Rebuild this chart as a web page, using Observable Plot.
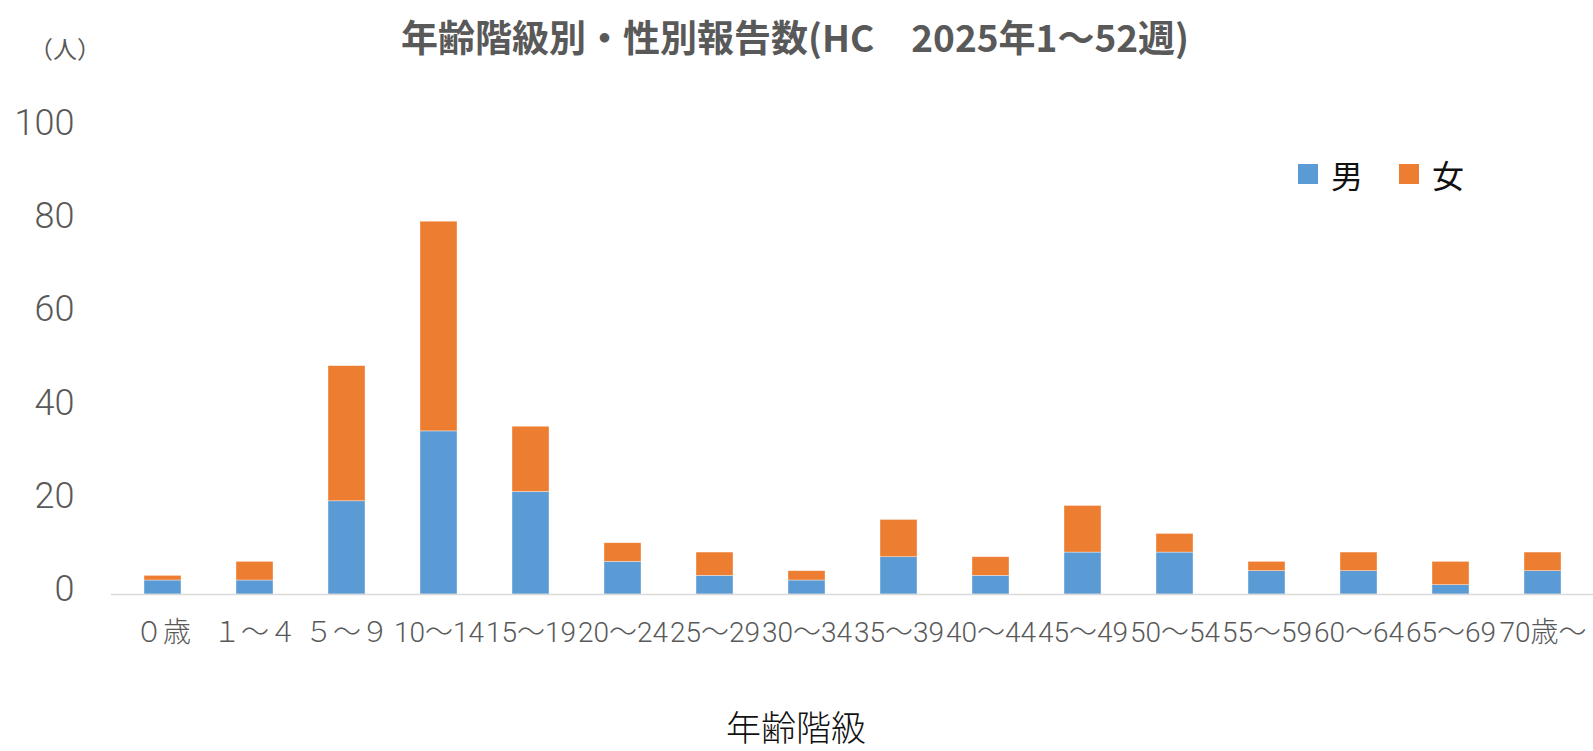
<!DOCTYPE html>
<html>
<head>
<meta charset="utf-8">
<script src="https://cdn.jsdelivr.net/npm/d3@7"></script>
<script src="https://cdn.jsdelivr.net/npm/@observablehq/plot@0.6"></script>
<style>
  html, body { margin: 0; padding: 0; background: #fff; }
  #wrap { position: relative; width: 1593px; height: 751px; overflow: hidden; }
  .t { position: absolute; white-space: nowrap; font-family: "Noto Sans CJK JP", sans-serif; line-height: 1; }
  #title { left: 795px; top: 36px; transform: translate(-50%, -50%); font-size: 37px; font-weight: 700; color: #595959; }
  #unit { left: 29px; top: 48px; transform: translate(0, -50%); font-size: 24px; color: #595959; }
  #xlabel { left: 796px; top: 725px; transform: translate(-50%, -50%); font-size: 35px; color: #111; font-weight: 300; }
  #legend { left: 1298px; top: 174px; transform: translate(0, -50%); display: flex; align-items: center; font-size: 32px; color: #111; }
  .sw { width: 20px; height: 20px; display: inline-block; margin-right: 13px; }
  .item { display: flex; align-items: center; margin-right: 36px; }
</style>
</head>
<body>
<div id="wrap">
  <div id="chart"></div>
</div>
<script>
const ages = ["０歳","１～４","５～９","10～14","15～19","20～24","25～29","30～34","35～39","40～44","45～49","50～54","55～59","60～64","65～69","70歳～"];
const male   = [3, 3, 20, 35, 22, 7, 4, 3, 8, 4, 9, 9, 5, 5, 2, 5];
const female = [1, 4, 29, 45, 14, 4, 5, 2, 8, 4, 10, 4, 2, 4, 5, 4];
const sexes = ["男", "女"];
const colors = ["#5B9BD5", "#ED7D31"];
const yTicks = [0, 20, 40, 60, 80, 100];
const titleText = "年齢階級別・性別報告数(HC　2025年1～52週)";
const unitText = "（人）";
const xLabelText = "年齢階級";

const rows = [];
ages.forEach((a, i) => {
  rows.push({age: a, sex: sexes[0], value: male[i]});
  rows.push({age: a, sex: sexes[1], value: female[i]});
});

const plot = Plot.plot({
  width: 1593,
  height: 751,
  marginLeft: 111,
  marginRight: 0,
  marginTop: 128,
  marginBottom: 157,
  style: {fontFamily: "Roboto, 'Noto Sans CJK JP', sans-serif", fontWeight: 300, background: "transparent", color: "#595959"},
  x: {domain: ages, paddingInner: 0.6, paddingOuter: 0.3, label: null},
  y: {domain: [0, 100], label: null},
  color: {domain: sexes, range: colors},
  marks: [
    Plot.barY(rows, {x: "age", y: "value", fill: "sex", stroke: "#ffffff", strokeWidth: 0.6, strokeOpacity: 0.6}),
    Plot.ruleY([0], {stroke: "#d9d9d9", strokeWidth: 1.5}),
    Plot.axisY({ticks: yTicks, tickSize: 0, tickPadding: 37, fontSize: 36, fill: "#595959", dy: -5, label: null}),
    Plot.axisX({tickSize: 0, tickPadding: 28, fontSize: 28, fill: "#595959", label: null})
  ]
});
document.getElementById("chart").appendChild(plot);

const wrap = document.getElementById("wrap");
function addText(id, txt) {
  const d = document.createElement("div");
  d.className = "t"; d.id = id; d.textContent = txt;
  wrap.appendChild(d);
}
addText("title", titleText);
addText("unit", unitText);
addText("xlabel", xLabelText);
const lg = document.createElement("div");
lg.className = "t"; lg.id = "legend";
sexes.forEach((s, i) => {
  const it = document.createElement("span"); it.className = "item";
  const sw = document.createElement("span"); sw.className = "sw"; sw.style.background = colors[i];
  const lb = document.createElement("span"); lb.textContent = s;
  it.appendChild(sw); it.appendChild(lb); lg.appendChild(it);
});
wrap.appendChild(lg);
</script>
</body>
</html>
